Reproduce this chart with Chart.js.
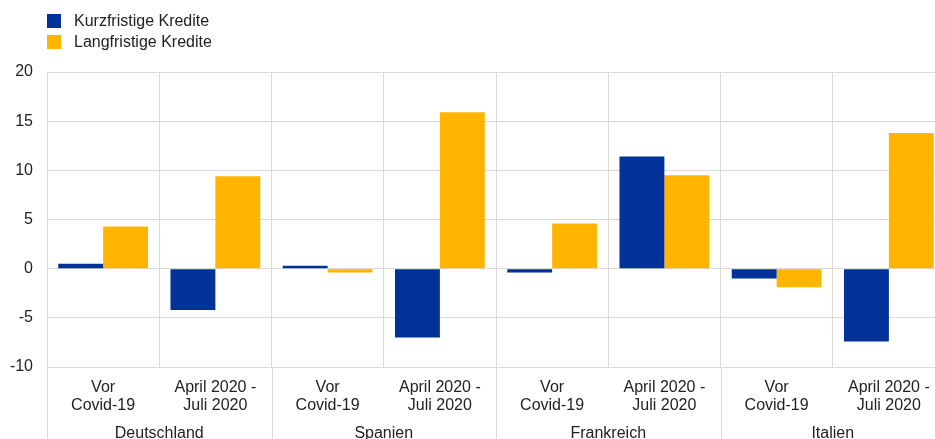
<!DOCTYPE html>
<html>
<head>
<meta charset="utf-8">
<script src="https://cdn.jsdelivr.net/npm/chart.js@4"></script>
<style>
  html, body { margin: 0; padding: 0; background: #fff; overflow: hidden; }
  #wrap { position: relative; width: 945px; height: 439px; }
  #legend { position: absolute; left: 47px; top: 14px; font: 16px Arial, "Liberation Sans", sans-serif; color: #222; }
  .item { display: flex; align-items: center; height: 14px; margin-bottom: 7px; white-space: nowrap; }
  .box { width: 14px; height: 14px; margin-right: 13px; }
</style>
</head>
<body>
<div id="wrap">
  <canvas id="chart"></canvas>
  <div id="legend"></div>
</div>
<script>
// Daten
const periods = [['Vor', 'Covid-19'], ['April 2020 -', 'Juli 2020']];
const countries = ['Deutschland', 'Spanien', 'Frankreich', 'Italien'];
const categories = countries.flatMap(() => periods);
const shortTermLoans = [0.5, -4.2, 0.3, -7.0, -0.4, 11.4, -1.0, -7.4];
const longTermLoans = [4.3, 9.4, -0.4, 15.9, 4.6, 9.5, -1.9, 13.8];
const yTicks = { min: -10, max: 20, step: 5 };

const blue = '#003299';
const yellow = '#ffb400';
const gridColor = '#d9d9d9';
const textColor = '#222';

Chart.defaults.font.family = 'Arial, "Liberation Sans", sans-serif';
Chart.defaults.font.size = 16;
Chart.defaults.color = textColor;

// Ländernamen und Trennlinien unter der Achse
const groupLabels = {
  id: 'groupLabels',
  afterDraw(chart) {
    const x = chart.scales.x;
    const area = chart.chartArea;
    const ctx = chart.ctx;
    const half = (x.getPixelForValue(1) - x.getPixelForValue(0)) / 2;
    ctx.save();
    ctx.strokeStyle = gridColor;
    ctx.lineWidth = 1;
    ctx.fillStyle = textColor;
    ctx.font = '16px Arial, "Liberation Sans", sans-serif';
    ctx.textAlign = 'center';
    ctx.textBaseline = 'middle';
    countries.forEach((name, g) => {
      const left = x.getPixelForValue(g * 2) - half;
      ctx.beginPath();
      ctx.moveTo(Math.round(left) + 0.5, area.bottom);
      ctx.lineTo(Math.round(left) + 0.5, chart.height);
      ctx.stroke();
      const center = (x.getPixelForValue(g * 2) + x.getPixelForValue(g * 2 + 1)) / 2;
      ctx.fillText(name, center, area.bottom + 67);
    });
    ctx.restore();
  }
};

const chart = new Chart(document.getElementById('chart'), {
  type: 'bar',
  data: {
    labels: categories,
    datasets: [
      { label: 'Kurzfristige Kredite', data: shortTermLoans, backgroundColor: blue },
      { label: 'Langfristige Kredite', data: longTermLoans, backgroundColor: yellow }
    ]
  },
  options: {
    responsive: true,
    maintainAspectRatio: false,
    animation: false,
    categoryPercentage: 0.8,
    barPercentage: 1.0,
    layout: { padding: { top: 72, bottom: 12, left: 0, right: 0 } },
    plugins: {
      legend: { display: false },
      tooltip: { enabled: true }
    },
    scales: {
      x: {
        grid: { color: gridColor, drawTicks: false, offset: true },
        border: { display: false },
        ticks: { padding: 12, maxRotation: 0, autoSkip: false, color: textColor, font: { size: 16, lineHeight: 1.125 } }
      },
      y: {
        min: yTicks.min,
        max: yTicks.max,
        afterFit: (scale) => { scale.width = 47; },
        grid: { color: gridColor, drawTicks: false },
        border: { display: false },
        ticks: { stepSize: yTicks.step, padding: 14, color: textColor, font: { size: 16 } }
      }
    }
  },
  plugins: [groupLabels]
});

// Legende als HTML
const legend = document.getElementById('legend');
chart.data.datasets.forEach(ds => {
  const item = document.createElement('div');
  item.className = 'item';
  item.innerHTML = `<span class="box" style="background:${ds.backgroundColor}"></span><span>${ds.label}</span>`;
  legend.appendChild(item);
});
</script>
</body>
</html>
